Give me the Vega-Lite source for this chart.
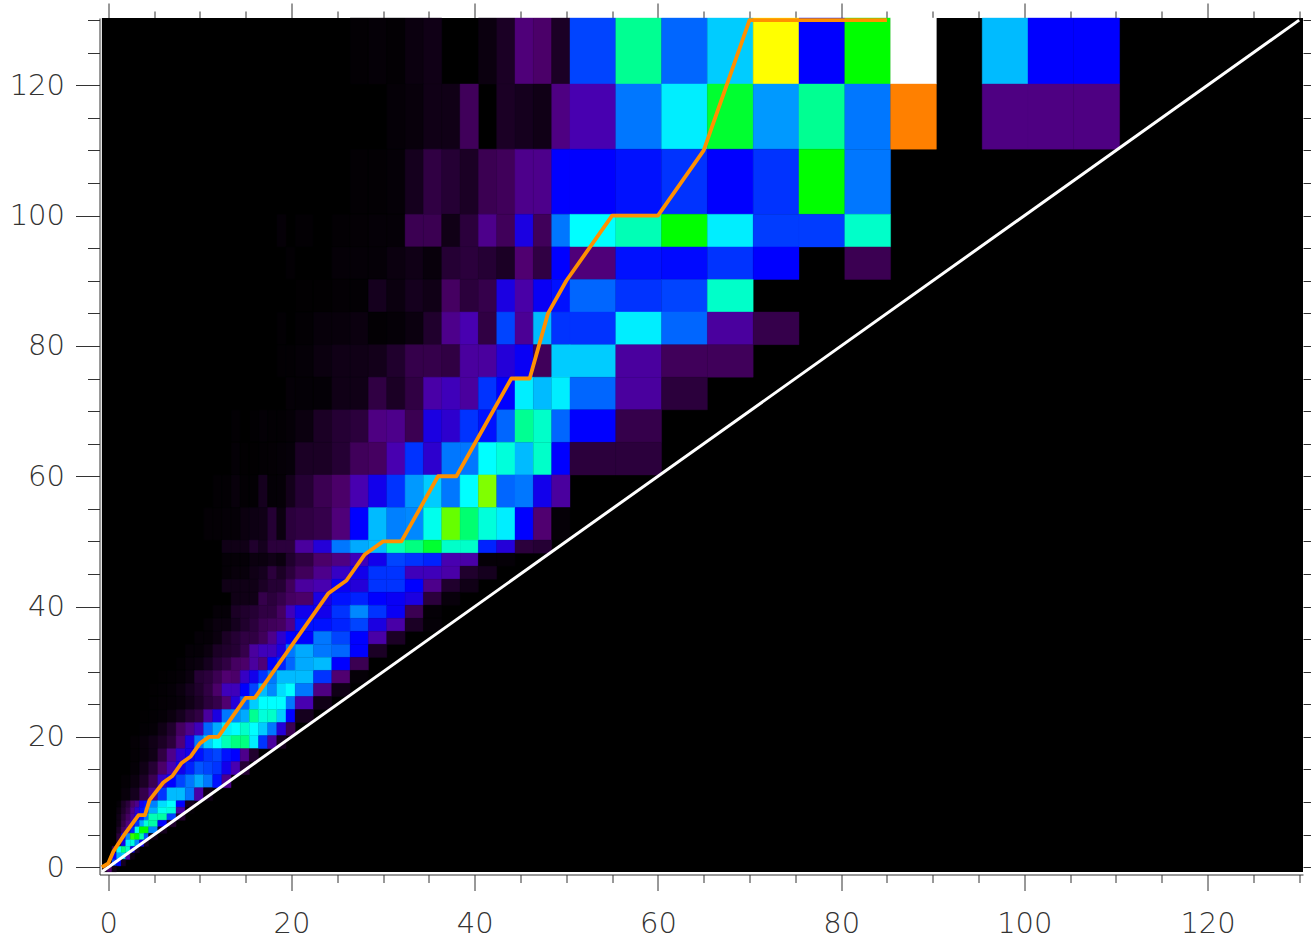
{"$schema":"https://vega.github.io/schema/vega-lite/v6.json","width":1203.5,"height":856.5,"autosize":"none","padding":{"left":99.5,"top":18,"right":8,"bottom":64.5},"background":"white","config":{"view":{"stroke":null}},"resolve":{"axis":{"x":"independent","y":"independent"}},"layer":[{"mark":{"type":"rect","color":"#000000","strokeWidth":0},"data":{"values":[{"x0":-0.7,"x1":130.42,"y0":-0.72,"y1":130.33}]},"encoding":{"x":{"field":"x0","type":"quantitative","scale":{"domain":[-0.96,130.42],"nice":false,"zero":false},"axis":{"orient":"bottom","title":null,"values":[0,5,10,15,20,25,30,35,40,45,50,55,60,65,70,75,80,85,90,95,100,105,110,115,120,125,130],"labelExpr":"datum.value % 20 === 0 ? datum.label : ''","tickSize":{"condition":{"test":"datum.value % 20 === 0","value":16},"value":8},"tickColor":"#333333","tickWidth":1,"grid":false,"domain":true,"domainColor":"#333333","labelFont":"DejaVu Sans","labelFontWeight":200,"labelFontSize":29,"labelColor":"#333333","labelPadding":19,"labelFlush":false,"labelOverlap":false}},"x2":{"field":"x1"},"y":{"field":"y0","type":"quantitative","scale":{"domain":[-1.12,130.33],"nice":false,"zero":false},"axis":{"orient":"left","title":null,"values":[0,5,10,15,20,25,30,35,40,45,50,55,60,65,70,75,80,85,90,95,100,105,110,115,120,125,130],"labelExpr":"datum.value % 20 === 0 ? datum.label : ''","tickSize":{"condition":{"test":"datum.value % 20 === 0","value":24},"value":12},"tickColor":"#333333","tickWidth":1,"grid":false,"domain":true,"domainColor":"#333333","labelFont":"DejaVu Sans","labelFontWeight":200,"labelFontSize":29,"labelColor":"#333333","labelPadding":11,"labelFlush":false,"labelOverlap":false}},"y2":{"field":"y1"}}},
{"mark":{"type":"rect","strokeWidth":0.4},"data":{"values":[
{"x0":26.4,"x1":28.4,"y0":120.2,"y1":130.33,"v":0.5},{"x0":28.4,"x1":30.4,"y0":120.2,"y1":130.33,"v":1},{"x0":30.4,"x1":32.4,"y0":120.2,"y1":130.33,"v":0.5},{"x0":32.4,"x1":34.4,"y0":120.2,"y1":130.33,"v":2},{"x0":34.4,"x1":36.4,"y0":120.2,"y1":130.33,"v":3},{"x0":40.4,"x1":42.4,"y0":120.2,"y1":130.33,"v":2},{"x0":42.4,"x1":44.4,"y0":120.2,"y1":130.33,"v":5},{"x0":44.4,"x1":46.4,"y0":120.2,"y1":130.33,"v":16},{"x0":46.4,"x1":48.4,"y0":120.2,"y1":130.33,"v":14},{"x0":48.4,"x1":50.4,"y0":120.2,"y1":130.33,"v":5},{"x0":50.4,"x1":55.4,"y0":120.2,"y1":130.33,"v":34},{"x0":55.4,"x1":60.4,"y0":120.2,"y1":130.33,"v":51},{"x0":60.4,"x1":65.4,"y0":120.2,"y1":130.33,"v":36},{"x0":65.4,"x1":70.4,"y0":120.2,"y1":130.33,"v":42},{"x0":70.4,"x1":75.4,"y0":120.2,"y1":130.33,"v":70},{"x0":75.4,"x1":80.4,"y0":120.2,"y1":130.33,"v":30},{"x0":80.4,"x1":85.4,"y0":120.2,"y1":130.33,"v":60},{"x0":85.4,"x1":90.4,"y0":120.2,"y1":130.33,"v":100},{"x0":95.4,"x1":100.4,"y0":120.2,"y1":130.33,"v":41},{"x0":100.4,"x1":105.4,"y0":120.2,"y1":130.33,"v":30},{"x0":105.4,"x1":110.4,"y0":120.2,"y1":130.33,"v":30},
{"x0":30.4,"x1":32.4,"y0":110.2,"y1":120.2,"v":1},{"x0":32.4,"x1":34.4,"y0":110.2,"y1":120.2,"v":1.5},{"x0":34.4,"x1":36.4,"y0":110.2,"y1":120.2,"v":3},{"x0":36.4,"x1":38.4,"y0":110.2,"y1":120.2,"v":3},{"x0":38.4,"x1":40.4,"y0":110.2,"y1":120.2,"v":12},{"x0":42.4,"x1":44.4,"y0":110.2,"y1":120.2,"v":5},{"x0":44.4,"x1":46.4,"y0":110.2,"y1":120.2,"v":4},{"x0":46.4,"x1":48.4,"y0":110.2,"y1":120.2,"v":3},{"x0":48.4,"x1":50.4,"y0":110.2,"y1":120.2,"v":17},{"x0":50.4,"x1":55.4,"y0":110.2,"y1":120.2,"v":22},{"x0":55.4,"x1":60.4,"y0":110.2,"y1":120.2,"v":37},{"x0":60.4,"x1":65.4,"y0":110.2,"y1":120.2,"v":44},{"x0":65.4,"x1":70.4,"y0":110.2,"y1":120.2,"v":57},{"x0":70.4,"x1":75.4,"y0":110.2,"y1":120.2,"v":39},{"x0":75.4,"x1":80.4,"y0":110.2,"y1":120.2,"v":51},{"x0":80.4,"x1":85.4,"y0":110.2,"y1":120.2,"v":37},{"x0":85.4,"x1":90.4,"y0":110.2,"y1":120.2,"v":80},{"x0":95.4,"x1":100.4,"y0":110.2,"y1":120.2,"v":17},{"x0":100.4,"x1":105.4,"y0":110.2,"y1":120.2,"v":17},{"x0":105.4,"x1":110.4,"y0":110.2,"y1":120.2,"v":17},
{"x0":26.4,"x1":28.4,"y0":100.2,"y1":110.2,"v":0.5},{"x0":28.4,"x1":30.4,"y0":100.2,"y1":110.2,"v":0.5},{"x0":30.4,"x1":32.4,"y0":100.2,"y1":110.2,"v":1},{"x0":32.4,"x1":34.4,"y0":100.2,"y1":110.2,"v":4},{"x0":34.4,"x1":36.4,"y0":100.2,"y1":110.2,"v":9},{"x0":36.4,"x1":38.4,"y0":100.2,"y1":110.2,"v":7},{"x0":38.4,"x1":40.4,"y0":100.2,"y1":110.2,"v":5},{"x0":40.4,"x1":42.4,"y0":100.2,"y1":110.2,"v":11},{"x0":42.4,"x1":44.4,"y0":100.2,"y1":110.2,"v":12},{"x0":44.4,"x1":46.4,"y0":100.2,"y1":110.2,"v":18},{"x0":46.4,"x1":48.4,"y0":100.2,"y1":110.2,"v":18},{"x0":48.4,"x1":50.4,"y0":100.2,"y1":110.2,"v":30},{"x0":50.4,"x1":55.4,"y0":100.2,"y1":110.2,"v":30},{"x0":55.4,"x1":60.4,"y0":100.2,"y1":110.2,"v":31},{"x0":60.4,"x1":65.4,"y0":100.2,"y1":110.2,"v":33},{"x0":65.4,"x1":70.4,"y0":100.2,"y1":110.2,"v":30},{"x0":70.4,"x1":75.4,"y0":100.2,"y1":110.2,"v":33},{"x0":75.4,"x1":80.4,"y0":100.2,"y1":110.2,"v":60},{"x0":80.4,"x1":85.4,"y0":100.2,"y1":110.2,"v":37},
{"x0":18.4,"x1":19.4,"y0":95.2,"y1":100.2,"v":1},{"x0":20.4,"x1":22.4,"y0":95.2,"y1":100.2,"v":0.6},{"x0":24.4,"x1":26.4,"y0":95.2,"y1":100.2,"v":0.5},{"x0":26.4,"x1":28.4,"y0":95.2,"y1":100.2,"v":0.7},{"x0":28.4,"x1":30.4,"y0":95.2,"y1":100.2,"v":1},{"x0":30.4,"x1":32.4,"y0":95.2,"y1":100.2,"v":1},{"x0":32.4,"x1":34.4,"y0":95.2,"y1":100.2,"v":11},{"x0":34.4,"x1":36.4,"y0":95.2,"y1":100.2,"v":11},{"x0":36.4,"x1":38.4,"y0":95.2,"y1":100.2,"v":3},{"x0":38.4,"x1":40.4,"y0":95.2,"y1":100.2,"v":8},{"x0":40.4,"x1":42.4,"y0":95.2,"y1":100.2,"v":18},{"x0":42.4,"x1":44.4,"y0":95.2,"y1":100.2,"v":12},{"x0":44.4,"x1":46.4,"y0":95.2,"y1":100.2,"v":27},{"x0":46.4,"x1":48.4,"y0":95.2,"y1":100.2,"v":12},{"x0":48.4,"x1":50.4,"y0":95.2,"y1":100.2,"v":37},{"x0":50.4,"x1":55.4,"y0":95.2,"y1":100.2,"v":45},{"x0":55.4,"x1":60.4,"y0":95.2,"y1":100.2,"v":49},{"x0":60.4,"x1":65.4,"y0":95.2,"y1":100.2,"v":60},{"x0":65.4,"x1":70.4,"y0":95.2,"y1":100.2,"v":44},{"x0":70.4,"x1":75.4,"y0":95.2,"y1":100.2,"v":33.5},{"x0":75.4,"x1":80.4,"y0":95.2,"y1":100.2,"v":33.5},{"x0":80.4,"x1":85.4,"y0":95.2,"y1":100.2,"v":48},
{"x0":19.4,"x1":20.4,"y0":90.2,"y1":95.2,"v":0.5},{"x0":24.4,"x1":26.4,"y0":90.2,"y1":95.2,"v":1},{"x0":26.4,"x1":28.4,"y0":90.2,"y1":95.2,"v":1},{"x0":28.4,"x1":30.4,"y0":90.2,"y1":95.2,"v":1},{"x0":30.4,"x1":32.4,"y0":90.2,"y1":95.2,"v":2},{"x0":32.4,"x1":34.4,"y0":90.2,"y1":95.2,"v":3},{"x0":34.4,"x1":36.4,"y0":90.2,"y1":95.2,"v":1.5},{"x0":36.4,"x1":38.4,"y0":90.2,"y1":95.2,"v":7},{"x0":38.4,"x1":40.4,"y0":90.2,"y1":95.2,"v":8},{"x0":40.4,"x1":42.4,"y0":90.2,"y1":95.2,"v":7},{"x0":42.4,"x1":44.4,"y0":90.2,"y1":95.2,"v":5},{"x0":44.4,"x1":46.4,"y0":90.2,"y1":95.2,"v":15},{"x0":46.4,"x1":48.4,"y0":90.2,"y1":95.2,"v":9},{"x0":48.4,"x1":50.4,"y0":90.2,"y1":95.2,"v":30},{"x0":50.4,"x1":55.4,"y0":90.2,"y1":95.2,"v":16},{"x0":55.4,"x1":60.4,"y0":90.2,"y1":95.2,"v":31},{"x0":60.4,"x1":65.4,"y0":90.2,"y1":95.2,"v":30.5},{"x0":65.4,"x1":70.4,"y0":90.2,"y1":95.2,"v":33},{"x0":70.4,"x1":75.4,"y0":90.2,"y1":95.2,"v":30},{"x0":80.4,"x1":85.4,"y0":90.2,"y1":95.2,"v":11},
{"x0":20.4,"x1":22.4,"y0":85.2,"y1":90.2,"v":0.3},{"x0":22.4,"x1":24.4,"y0":85.2,"y1":90.2,"v":0.3},{"x0":24.4,"x1":26.4,"y0":85.2,"y1":90.2,"v":0.7},{"x0":26.4,"x1":28.4,"y0":85.2,"y1":90.2,"v":0.6},{"x0":28.4,"x1":30.4,"y0":85.2,"y1":90.2,"v":4},{"x0":30.4,"x1":32.4,"y0":85.2,"y1":90.2,"v":2},{"x0":32.4,"x1":34.4,"y0":85.2,"y1":90.2,"v":4},{"x0":34.4,"x1":36.4,"y0":85.2,"y1":90.2,"v":3},{"x0":36.4,"x1":38.4,"y0":85.2,"y1":90.2,"v":13},{"x0":38.4,"x1":40.4,"y0":85.2,"y1":90.2,"v":8},{"x0":40.4,"x1":42.4,"y0":85.2,"y1":90.2,"v":10},{"x0":42.4,"x1":44.4,"y0":85.2,"y1":90.2,"v":27},{"x0":44.4,"x1":46.4,"y0":85.2,"y1":90.2,"v":21},{"x0":46.4,"x1":48.4,"y0":85.2,"y1":90.2,"v":29},{"x0":48.4,"x1":50.4,"y0":85.2,"y1":90.2,"v":31},{"x0":50.4,"x1":55.4,"y0":85.2,"y1":90.2,"v":36},{"x0":55.4,"x1":60.4,"y0":85.2,"y1":90.2,"v":33},{"x0":60.4,"x1":65.4,"y0":85.2,"y1":90.2,"v":34},{"x0":65.4,"x1":70.4,"y0":85.2,"y1":90.2,"v":48},
{"x0":18.4,"x1":19.4,"y0":80.2,"y1":85.2,"v":0.5},{"x0":20.4,"x1":22.4,"y0":80.2,"y1":85.2,"v":0.6},{"x0":22.4,"x1":24.4,"y0":80.2,"y1":85.2,"v":1.3},{"x0":24.4,"x1":26.4,"y0":80.2,"y1":85.2,"v":1.5},{"x0":26.4,"x1":28.4,"y0":80.2,"y1":85.2,"v":2},{"x0":28.4,"x1":30.4,"y0":80.2,"y1":85.2,"v":0.5},{"x0":30.4,"x1":32.4,"y0":80.2,"y1":85.2,"v":1},{"x0":32.4,"x1":34.4,"y0":80.2,"y1":85.2,"v":2},{"x0":34.4,"x1":36.4,"y0":80.2,"y1":85.2,"v":6},{"x0":36.4,"x1":38.4,"y0":80.2,"y1":85.2,"v":18},{"x0":38.4,"x1":40.4,"y0":80.2,"y1":85.2,"v":22},{"x0":40.4,"x1":42.4,"y0":80.2,"y1":85.2,"v":9},{"x0":42.4,"x1":44.4,"y0":80.2,"y1":85.2,"v":34},{"x0":44.4,"x1":46.4,"y0":80.2,"y1":85.2,"v":19},{"x0":46.4,"x1":48.4,"y0":80.2,"y1":85.2,"v":41},{"x0":48.4,"x1":50.4,"y0":80.2,"y1":85.2,"v":33},{"x0":50.4,"x1":55.4,"y0":80.2,"y1":85.2,"v":33},{"x0":55.4,"x1":60.4,"y0":80.2,"y1":85.2,"v":44},{"x0":60.4,"x1":65.4,"y0":80.2,"y1":85.2,"v":36},{"x0":65.4,"x1":70.4,"y0":80.2,"y1":85.2,"v":20},{"x0":70.4,"x1":75.4,"y0":80.2,"y1":85.2,"v":10},
{"x0":18.4,"x1":19.4,"y0":75.2,"y1":80.2,"v":0.5},{"x0":19.4,"x1":20.4,"y0":75.2,"y1":80.2,"v":0.5},{"x0":20.4,"x1":22.4,"y0":75.2,"y1":80.2,"v":1},{"x0":22.4,"x1":24.4,"y0":75.2,"y1":80.2,"v":2},{"x0":24.4,"x1":26.4,"y0":75.2,"y1":80.2,"v":3},{"x0":26.4,"x1":28.4,"y0":75.2,"y1":80.2,"v":3},{"x0":28.4,"x1":30.4,"y0":75.2,"y1":80.2,"v":3.5},{"x0":30.4,"x1":32.4,"y0":75.2,"y1":80.2,"v":6},{"x0":32.4,"x1":34.4,"y0":75.2,"y1":80.2,"v":10},{"x0":34.4,"x1":36.4,"y0":75.2,"y1":80.2,"v":10},{"x0":36.4,"x1":38.4,"y0":75.2,"y1":80.2,"v":9},{"x0":38.4,"x1":40.4,"y0":75.2,"y1":80.2,"v":20},{"x0":40.4,"x1":42.4,"y0":75.2,"y1":80.2,"v":20},{"x0":42.4,"x1":44.4,"y0":75.2,"y1":80.2,"v":26},{"x0":44.4,"x1":46.4,"y0":75.2,"y1":80.2,"v":29},{"x0":46.4,"x1":48.4,"y0":75.2,"y1":80.2,"v":12},{"x0":48.4,"x1":50.4,"y0":75.2,"y1":80.2,"v":42},{"x0":50.4,"x1":55.4,"y0":75.2,"y1":80.2,"v":42},{"x0":55.4,"x1":60.4,"y0":75.2,"y1":80.2,"v":20},{"x0":60.4,"x1":65.4,"y0":75.2,"y1":80.2,"v":12},{"x0":65.4,"x1":70.4,"y0":75.2,"y1":80.2,"v":12},
{"x0":19.4,"x1":20.4,"y0":70.2,"y1":75.2,"v":1},{"x0":20.4,"x1":22.4,"y0":70.2,"y1":75.2,"v":0.8},{"x0":22.4,"x1":24.4,"y0":70.2,"y1":75.2,"v":0.8},{"x0":24.4,"x1":26.4,"y0":70.2,"y1":75.2,"v":3},{"x0":26.4,"x1":28.4,"y0":70.2,"y1":75.2,"v":3},{"x0":28.4,"x1":30.4,"y0":70.2,"y1":75.2,"v":9},{"x0":30.4,"x1":32.4,"y0":70.2,"y1":75.2,"v":5},{"x0":32.4,"x1":34.4,"y0":70.2,"y1":75.2,"v":9},{"x0":34.4,"x1":36.4,"y0":70.2,"y1":75.2,"v":21},{"x0":36.4,"x1":38.4,"y0":70.2,"y1":75.2,"v":23},{"x0":38.4,"x1":40.4,"y0":70.2,"y1":75.2,"v":20},{"x0":40.4,"x1":42.4,"y0":70.2,"y1":75.2,"v":33},{"x0":42.4,"x1":44.4,"y0":70.2,"y1":75.2,"v":30},{"x0":44.4,"x1":46.4,"y0":70.2,"y1":75.2,"v":44},{"x0":46.4,"x1":48.4,"y0":70.2,"y1":75.2,"v":41},{"x0":48.4,"x1":50.4,"y0":70.2,"y1":75.2,"v":44},{"x0":50.4,"x1":55.4,"y0":70.2,"y1":75.2,"v":36},{"x0":55.4,"x1":60.4,"y0":70.2,"y1":75.2,"v":20},{"x0":60.4,"x1":65.4,"y0":70.2,"y1":75.2,"v":8},
{"x0":13.4,"x1":14.4,"y0":65.2,"y1":70.2,"v":0.5},{"x0":15.4,"x1":16.4,"y0":65.2,"y1":70.2,"v":0.4},{"x0":16.4,"x1":17.4,"y0":65.2,"y1":70.2,"v":0.8},{"x0":17.4,"x1":18.4,"y0":65.2,"y1":70.2,"v":0.5},{"x0":18.4,"x1":19.4,"y0":65.2,"y1":70.2,"v":0.5},{"x0":19.4,"x1":20.4,"y0":65.2,"y1":70.2,"v":1},{"x0":20.4,"x1":22.4,"y0":65.2,"y1":70.2,"v":2},{"x0":22.4,"x1":24.4,"y0":65.2,"y1":70.2,"v":5},{"x0":24.4,"x1":26.4,"y0":65.2,"y1":70.2,"v":7},{"x0":26.4,"x1":28.4,"y0":65.2,"y1":70.2,"v":8},{"x0":28.4,"x1":30.4,"y0":65.2,"y1":70.2,"v":17},{"x0":30.4,"x1":32.4,"y0":65.2,"y1":70.2,"v":18},{"x0":32.4,"x1":34.4,"y0":65.2,"y1":70.2,"v":11},{"x0":34.4,"x1":36.4,"y0":65.2,"y1":70.2,"v":27},{"x0":36.4,"x1":38.4,"y0":65.2,"y1":70.2,"v":25},{"x0":38.4,"x1":40.4,"y0":65.2,"y1":70.2,"v":33},{"x0":40.4,"x1":42.4,"y0":65.2,"y1":70.2,"v":31},{"x0":42.4,"x1":44.4,"y0":65.2,"y1":70.2,"v":36},{"x0":44.4,"x1":46.4,"y0":65.2,"y1":70.2,"v":51},{"x0":46.4,"x1":48.4,"y0":65.2,"y1":70.2,"v":48},{"x0":48.4,"x1":50.4,"y0":65.2,"y1":70.2,"v":36},{"x0":50.4,"x1":55.4,"y0":65.2,"y1":70.2,"v":30},{"x0":55.4,"x1":60.4,"y0":65.2,"y1":70.2,"v":10},
{"x0":13.4,"x1":14.4,"y0":60.2,"y1":65.2,"v":0.8},{"x0":14.4,"x1":15.4,"y0":60.2,"y1":65.2,"v":0.3},{"x0":15.4,"x1":16.4,"y0":60.2,"y1":65.2,"v":0.3},{"x0":16.4,"x1":17.4,"y0":60.2,"y1":65.2,"v":0.5},{"x0":17.4,"x1":18.4,"y0":60.2,"y1":65.2,"v":0.7},{"x0":18.4,"x1":19.4,"y0":60.2,"y1":65.2,"v":1},{"x0":19.4,"x1":20.4,"y0":60.2,"y1":65.2,"v":1.2},{"x0":20.4,"x1":22.4,"y0":60.2,"y1":65.2,"v":5},{"x0":22.4,"x1":24.4,"y0":60.2,"y1":65.2,"v":5},{"x0":24.4,"x1":26.4,"y0":60.2,"y1":65.2,"v":7},{"x0":26.4,"x1":28.4,"y0":60.2,"y1":65.2,"v":12},{"x0":28.4,"x1":30.4,"y0":60.2,"y1":65.2,"v":13},{"x0":30.4,"x1":32.4,"y0":60.2,"y1":65.2,"v":22},{"x0":32.4,"x1":34.4,"y0":60.2,"y1":65.2,"v":33},{"x0":34.4,"x1":36.4,"y0":60.2,"y1":65.2,"v":25},{"x0":36.4,"x1":38.4,"y0":60.2,"y1":65.2,"v":37},{"x0":38.4,"x1":40.4,"y0":60.2,"y1":65.2,"v":37},{"x0":40.4,"x1":42.4,"y0":60.2,"y1":65.2,"v":45},{"x0":42.4,"x1":44.4,"y0":60.2,"y1":65.2,"v":47},{"x0":44.4,"x1":46.4,"y0":60.2,"y1":65.2,"v":41},{"x0":46.4,"x1":48.4,"y0":60.2,"y1":65.2,"v":48},{"x0":48.4,"x1":50.4,"y0":60.2,"y1":65.2,"v":30},{"x0":50.4,"x1":55.4,"y0":60.2,"y1":65.2,"v":8},{"x0":55.4,"x1":60.4,"y0":60.2,"y1":65.2,"v":8},
{"x0":11.4,"x1":12.4,"y0":55.2,"y1":60.2,"v":0.5},{"x0":12.4,"x1":13.4,"y0":55.2,"y1":60.2,"v":0.5},{"x0":13.4,"x1":14.4,"y0":55.2,"y1":60.2,"v":1.5},{"x0":14.4,"x1":15.4,"y0":55.2,"y1":60.2,"v":0.5},{"x0":15.4,"x1":16.4,"y0":55.2,"y1":60.2,"v":0.5},{"x0":16.4,"x1":17.4,"y0":55.2,"y1":60.2,"v":4},{"x0":17.4,"x1":18.4,"y0":55.2,"y1":60.2,"v":0.8},{"x0":18.4,"x1":19.4,"y0":55.2,"y1":60.2,"v":1},{"x0":19.4,"x1":20.4,"y0":55.2,"y1":60.2,"v":3.5},{"x0":20.4,"x1":22.4,"y0":55.2,"y1":60.2,"v":7},{"x0":22.4,"x1":24.4,"y0":55.2,"y1":60.2,"v":11},{"x0":24.4,"x1":26.4,"y0":55.2,"y1":60.2,"v":14},{"x0":26.4,"x1":28.4,"y0":55.2,"y1":60.2,"v":22},{"x0":28.4,"x1":30.4,"y0":55.2,"y1":60.2,"v":28},{"x0":30.4,"x1":32.4,"y0":55.2,"y1":60.2,"v":33},{"x0":32.4,"x1":34.4,"y0":55.2,"y1":60.2,"v":39},{"x0":34.4,"x1":36.4,"y0":55.2,"y1":60.2,"v":42},{"x0":36.4,"x1":38.4,"y0":55.2,"y1":60.2,"v":37},{"x0":38.4,"x1":40.4,"y0":55.2,"y1":60.2,"v":45},{"x0":40.4,"x1":42.4,"y0":55.2,"y1":60.2,"v":65},{"x0":42.4,"x1":44.4,"y0":55.2,"y1":60.2,"v":36},{"x0":44.4,"x1":46.4,"y0":55.2,"y1":60.2,"v":37},{"x0":46.4,"x1":48.4,"y0":55.2,"y1":60.2,"v":28},{"x0":48.4,"x1":50.4,"y0":55.2,"y1":60.2,"v":20},
{"x0":10.4,"x1":11.4,"y0":50.2,"y1":55.2,"v":0.7},{"x0":11.4,"x1":12.4,"y0":50.2,"y1":55.2,"v":0.7},{"x0":12.4,"x1":13.4,"y0":50.2,"y1":55.2,"v":1},{"x0":13.4,"x1":14.4,"y0":50.2,"y1":55.2,"v":1},{"x0":14.4,"x1":15.4,"y0":50.2,"y1":55.2,"v":2},{"x0":15.4,"x1":16.4,"y0":50.2,"y1":55.2,"v":2.5},{"x0":16.4,"x1":17.4,"y0":50.2,"y1":55.2,"v":3},{"x0":17.4,"x1":18.4,"y0":50.2,"y1":55.2,"v":7},{"x0":18.4,"x1":19.4,"y0":50.2,"y1":55.2,"v":2},{"x0":19.4,"x1":20.4,"y0":50.2,"y1":55.2,"v":8},{"x0":20.4,"x1":22.4,"y0":50.2,"y1":55.2,"v":9},{"x0":22.4,"x1":24.4,"y0":50.2,"y1":55.2,"v":10},{"x0":24.4,"x1":26.4,"y0":50.2,"y1":55.2,"v":16},{"x0":26.4,"x1":28.4,"y0":50.2,"y1":55.2,"v":30},{"x0":28.4,"x1":30.4,"y0":50.2,"y1":55.2,"v":41},{"x0":30.4,"x1":32.4,"y0":50.2,"y1":55.2,"v":37.5},{"x0":32.4,"x1":34.4,"y0":50.2,"y1":55.2,"v":38},{"x0":34.4,"x1":36.4,"y0":50.2,"y1":55.2,"v":46},{"x0":36.4,"x1":38.4,"y0":50.2,"y1":55.2,"v":64},{"x0":38.4,"x1":40.4,"y0":50.2,"y1":55.2,"v":53},{"x0":40.4,"x1":42.4,"y0":50.2,"y1":55.2,"v":47},{"x0":42.4,"x1":44.4,"y0":50.2,"y1":55.2,"v":44},{"x0":44.4,"x1":46.4,"y0":50.2,"y1":55.2,"v":30},{"x0":46.4,"x1":48.4,"y0":50.2,"y1":55.2,"v":15},{"x0":48.4,"x1":50.4,"y0":50.2,"y1":55.2,"v":1},
{"x0":12.4,"x1":13.4,"y0":48.2,"y1":50.2,"v":3},{"x0":13.4,"x1":14.4,"y0":48.2,"y1":50.2,"v":3},{"x0":14.4,"x1":15.4,"y0":48.2,"y1":50.2,"v":3},{"x0":15.4,"x1":16.4,"y0":48.2,"y1":50.2,"v":6},{"x0":16.4,"x1":17.4,"y0":48.2,"y1":50.2,"v":4},{"x0":17.4,"x1":18.4,"y0":48.2,"y1":50.2,"v":8},{"x0":18.4,"x1":19.4,"y0":48.2,"y1":50.2,"v":8},{"x0":19.4,"x1":20.4,"y0":48.2,"y1":50.2,"v":8},{"x0":20.4,"x1":22.4,"y0":48.2,"y1":50.2,"v":20},{"x0":22.4,"x1":24.4,"y0":48.2,"y1":50.2,"v":26},{"x0":24.4,"x1":26.4,"y0":48.2,"y1":50.2,"v":37},{"x0":26.4,"x1":28.4,"y0":48.2,"y1":50.2,"v":40},{"x0":28.4,"x1":30.4,"y0":48.2,"y1":50.2,"v":41},{"x0":30.4,"x1":32.4,"y0":48.2,"y1":50.2,"v":49},{"x0":32.4,"x1":34.4,"y0":48.2,"y1":50.2,"v":52},{"x0":34.4,"x1":36.4,"y0":48.2,"y1":50.2,"v":57},{"x0":36.4,"x1":38.4,"y0":48.2,"y1":50.2,"v":48},{"x0":38.4,"x1":40.4,"y0":48.2,"y1":50.2,"v":48},{"x0":40.4,"x1":42.4,"y0":48.2,"y1":50.2,"v":32},{"x0":42.4,"x1":44.4,"y0":48.2,"y1":50.2,"v":26},{"x0":44.4,"x1":46.4,"y0":48.2,"y1":50.2,"v":8},{"x0":46.4,"x1":48.4,"y0":48.2,"y1":50.2,"v":7},
{"x0":12.4,"x1":13.4,"y0":46.2,"y1":48.2,"v":1},{"x0":13.4,"x1":14.4,"y0":46.2,"y1":48.2,"v":1},{"x0":14.4,"x1":15.4,"y0":46.2,"y1":48.2,"v":1},{"x0":15.4,"x1":16.4,"y0":46.2,"y1":48.2,"v":2},{"x0":16.4,"x1":17.4,"y0":46.2,"y1":48.2,"v":2},{"x0":17.4,"x1":18.4,"y0":46.2,"y1":48.2,"v":3},{"x0":18.4,"x1":19.4,"y0":46.2,"y1":48.2,"v":2},{"x0":19.4,"x1":20.4,"y0":46.2,"y1":48.2,"v":6},{"x0":20.4,"x1":22.4,"y0":46.2,"y1":48.2,"v":9},{"x0":22.4,"x1":24.4,"y0":46.2,"y1":48.2,"v":14},{"x0":24.4,"x1":26.4,"y0":46.2,"y1":48.2,"v":17},{"x0":26.4,"x1":28.4,"y0":46.2,"y1":48.2,"v":23},{"x0":28.4,"x1":30.4,"y0":46.2,"y1":48.2,"v":28},{"x0":30.4,"x1":32.4,"y0":46.2,"y1":48.2,"v":34},{"x0":32.4,"x1":34.4,"y0":46.2,"y1":48.2,"v":33},{"x0":34.4,"x1":36.4,"y0":46.2,"y1":48.2,"v":32},{"x0":36.4,"x1":38.4,"y0":46.2,"y1":48.2,"v":22},{"x0":38.4,"x1":40.4,"y0":46.2,"y1":48.2,"v":21},{"x0":40.4,"x1":42.4,"y0":46.2,"y1":48.2,"v":1},{"x0":42.4,"x1":44.4,"y0":46.2,"y1":48.2,"v":1},
{"x0":12.4,"x1":13.4,"y0":44.2,"y1":46.2,"v":1},{"x0":13.4,"x1":14.4,"y0":44.2,"y1":46.2,"v":1.5},{"x0":14.4,"x1":15.4,"y0":44.2,"y1":46.2,"v":1.5},{"x0":15.4,"x1":16.4,"y0":44.2,"y1":46.2,"v":3},{"x0":16.4,"x1":17.4,"y0":44.2,"y1":46.2,"v":4},{"x0":17.4,"x1":18.4,"y0":44.2,"y1":46.2,"v":8},{"x0":18.4,"x1":19.4,"y0":44.2,"y1":46.2,"v":5},{"x0":19.4,"x1":20.4,"y0":44.2,"y1":46.2,"v":8},{"x0":20.4,"x1":22.4,"y0":44.2,"y1":46.2,"v":12},{"x0":22.4,"x1":24.4,"y0":44.2,"y1":46.2,"v":18},{"x0":24.4,"x1":26.4,"y0":44.2,"y1":46.2,"v":24},{"x0":26.4,"x1":28.4,"y0":44.2,"y1":46.2,"v":28},{"x0":28.4,"x1":30.4,"y0":44.2,"y1":46.2,"v":33},{"x0":30.4,"x1":32.4,"y0":44.2,"y1":46.2,"v":33},{"x0":32.4,"x1":34.4,"y0":44.2,"y1":46.2,"v":23},{"x0":34.4,"x1":36.4,"y0":44.2,"y1":46.2,"v":23},{"x0":36.4,"x1":38.4,"y0":44.2,"y1":46.2,"v":21},{"x0":38.4,"x1":40.4,"y0":44.2,"y1":46.2,"v":6},{"x0":40.4,"x1":42.4,"y0":44.2,"y1":46.2,"v":4},
{"x0":12.4,"x1":13.4,"y0":42.2,"y1":44.2,"v":3},{"x0":13.4,"x1":14.4,"y0":42.2,"y1":44.2,"v":3},{"x0":14.4,"x1":15.4,"y0":42.2,"y1":44.2,"v":3},{"x0":15.4,"x1":16.4,"y0":42.2,"y1":44.2,"v":3},{"x0":16.4,"x1":17.4,"y0":42.2,"y1":44.2,"v":5},{"x0":17.4,"x1":18.4,"y0":42.2,"y1":44.2,"v":7},{"x0":18.4,"x1":19.4,"y0":42.2,"y1":44.2,"v":7},{"x0":19.4,"x1":20.4,"y0":42.2,"y1":44.2,"v":12},{"x0":20.4,"x1":22.4,"y0":42.2,"y1":44.2,"v":20},{"x0":22.4,"x1":24.4,"y0":42.2,"y1":44.2,"v":22},{"x0":24.4,"x1":26.4,"y0":42.2,"y1":44.2,"v":29},{"x0":26.4,"x1":28.4,"y0":42.2,"y1":44.2,"v":26},{"x0":28.4,"x1":30.4,"y0":42.2,"y1":44.2,"v":33},{"x0":30.4,"x1":32.4,"y0":42.2,"y1":44.2,"v":33},{"x0":32.4,"x1":34.4,"y0":42.2,"y1":44.2,"v":30},{"x0":34.4,"x1":36.4,"y0":42.2,"y1":44.2,"v":18},{"x0":36.4,"x1":38.4,"y0":42.2,"y1":44.2,"v":6},{"x0":38.4,"x1":40.4,"y0":42.2,"y1":44.2,"v":3},
{"x0":13.4,"x1":14.4,"y0":40.2,"y1":42.2,"v":3},{"x0":14.4,"x1":15.4,"y0":40.2,"y1":42.2,"v":3},{"x0":15.4,"x1":16.4,"y0":40.2,"y1":42.2,"v":3},{"x0":16.4,"x1":17.4,"y0":40.2,"y1":42.2,"v":10},{"x0":17.4,"x1":18.4,"y0":40.2,"y1":42.2,"v":8},{"x0":18.4,"x1":19.4,"y0":40.2,"y1":42.2,"v":10},{"x0":19.4,"x1":20.4,"y0":40.2,"y1":42.2,"v":13},{"x0":20.4,"x1":22.4,"y0":40.2,"y1":42.2,"v":14},{"x0":22.4,"x1":24.4,"y0":40.2,"y1":42.2,"v":27},{"x0":24.4,"x1":26.4,"y0":40.2,"y1":42.2,"v":31},{"x0":26.4,"x1":28.4,"y0":40.2,"y1":42.2,"v":32},{"x0":28.4,"x1":30.4,"y0":40.2,"y1":42.2,"v":30},{"x0":30.4,"x1":32.4,"y0":40.2,"y1":42.2,"v":29},{"x0":32.4,"x1":34.4,"y0":40.2,"y1":42.2,"v":27},{"x0":34.4,"x1":36.4,"y0":40.2,"y1":42.2,"v":8},{"x0":36.4,"x1":38.4,"y0":40.2,"y1":42.2,"v":1.5},
{"x0":11.4,"x1":12.4,"y0":38.2,"y1":40.2,"v":1},{"x0":12.4,"x1":13.4,"y0":38.2,"y1":40.2,"v":1},{"x0":13.4,"x1":14.4,"y0":38.2,"y1":40.2,"v":5},{"x0":14.4,"x1":15.4,"y0":38.2,"y1":40.2,"v":6},{"x0":15.4,"x1":16.4,"y0":38.2,"y1":40.2,"v":7},{"x0":16.4,"x1":17.4,"y0":38.2,"y1":40.2,"v":9},{"x0":17.4,"x1":18.4,"y0":38.2,"y1":40.2,"v":9},{"x0":18.4,"x1":19.4,"y0":38.2,"y1":40.2,"v":13},{"x0":19.4,"x1":20.4,"y0":38.2,"y1":40.2,"v":23},{"x0":20.4,"x1":22.4,"y0":38.2,"y1":40.2,"v":28},{"x0":22.4,"x1":24.4,"y0":38.2,"y1":40.2,"v":28},{"x0":24.4,"x1":26.4,"y0":38.2,"y1":40.2,"v":33},{"x0":26.4,"x1":28.4,"y0":38.2,"y1":40.2,"v":38},{"x0":28.4,"x1":30.4,"y0":38.2,"y1":40.2,"v":33},{"x0":30.4,"x1":32.4,"y0":38.2,"y1":40.2,"v":29},{"x0":32.4,"x1":34.4,"y0":38.2,"y1":40.2,"v":11},{"x0":34.4,"x1":36.4,"y0":38.2,"y1":40.2,"v":1},
{"x0":10.4,"x1":11.4,"y0":36.2,"y1":38.2,"v":1},{"x0":11.4,"x1":12.4,"y0":36.2,"y1":38.2,"v":2},{"x0":12.4,"x1":13.4,"y0":36.2,"y1":38.2,"v":2},{"x0":13.4,"x1":14.4,"y0":36.2,"y1":38.2,"v":4},{"x0":14.4,"x1":15.4,"y0":36.2,"y1":38.2,"v":6},{"x0":15.4,"x1":16.4,"y0":36.2,"y1":38.2,"v":8},{"x0":16.4,"x1":17.4,"y0":36.2,"y1":38.2,"v":11},{"x0":17.4,"x1":18.4,"y0":36.2,"y1":38.2,"v":12},{"x0":18.4,"x1":19.4,"y0":36.2,"y1":38.2,"v":13},{"x0":19.4,"x1":20.4,"y0":36.2,"y1":38.2,"v":18},{"x0":20.4,"x1":22.4,"y0":36.2,"y1":38.2,"v":31},{"x0":22.4,"x1":24.4,"y0":36.2,"y1":38.2,"v":31},{"x0":24.4,"x1":26.4,"y0":36.2,"y1":38.2,"v":32},{"x0":26.4,"x1":28.4,"y0":36.2,"y1":38.2,"v":34},{"x0":28.4,"x1":30.4,"y0":36.2,"y1":38.2,"v":27},{"x0":30.4,"x1":32.4,"y0":36.2,"y1":38.2,"v":21},{"x0":32.4,"x1":34.4,"y0":36.2,"y1":38.2,"v":5},{"x0":34.4,"x1":36.4,"y0":36.2,"y1":38.2,"v":1},
{"x0":9.4,"x1":10.4,"y0":34.2,"y1":36.2,"v":1},{"x0":10.4,"x1":11.4,"y0":34.2,"y1":36.2,"v":1},{"x0":11.4,"x1":12.4,"y0":34.2,"y1":36.2,"v":2},{"x0":12.4,"x1":13.4,"y0":34.2,"y1":36.2,"v":5},{"x0":13.4,"x1":14.4,"y0":34.2,"y1":36.2,"v":7},{"x0":14.4,"x1":15.4,"y0":34.2,"y1":36.2,"v":9},{"x0":15.4,"x1":16.4,"y0":34.2,"y1":36.2,"v":9},{"x0":16.4,"x1":17.4,"y0":34.2,"y1":36.2,"v":12},{"x0":17.4,"x1":18.4,"y0":34.2,"y1":36.2,"v":18},{"x0":18.4,"x1":19.4,"y0":34.2,"y1":36.2,"v":25},{"x0":19.4,"x1":20.4,"y0":34.2,"y1":36.2,"v":30},{"x0":20.4,"x1":22.4,"y0":34.2,"y1":36.2,"v":30},{"x0":22.4,"x1":24.4,"y0":34.2,"y1":36.2,"v":37},{"x0":24.4,"x1":26.4,"y0":34.2,"y1":36.2,"v":34},{"x0":26.4,"x1":28.4,"y0":34.2,"y1":36.2,"v":30},{"x0":28.4,"x1":30.4,"y0":34.2,"y1":36.2,"v":21},{"x0":30.4,"x1":32.4,"y0":34.2,"y1":36.2,"v":5},
{"x0":8.4,"x1":9.4,"y0":32.2,"y1":34.2,"v":1},{"x0":9.4,"x1":10.4,"y0":32.2,"y1":34.2,"v":1},{"x0":10.4,"x1":11.4,"y0":32.2,"y1":34.2,"v":2},{"x0":11.4,"x1":12.4,"y0":32.2,"y1":34.2,"v":5},{"x0":12.4,"x1":13.4,"y0":32.2,"y1":34.2,"v":6},{"x0":13.4,"x1":14.4,"y0":32.2,"y1":34.2,"v":7},{"x0":14.4,"x1":15.4,"y0":32.2,"y1":34.2,"v":10},{"x0":15.4,"x1":16.4,"y0":32.2,"y1":34.2,"v":20},{"x0":16.4,"x1":17.4,"y0":32.2,"y1":34.2,"v":23},{"x0":17.4,"x1":18.4,"y0":32.2,"y1":34.2,"v":23},{"x0":18.4,"x1":19.4,"y0":32.2,"y1":34.2,"v":27},{"x0":19.4,"x1":20.4,"y0":32.2,"y1":34.2,"v":37},{"x0":20.4,"x1":22.4,"y0":32.2,"y1":34.2,"v":40},{"x0":22.4,"x1":24.4,"y0":32.2,"y1":34.2,"v":37},{"x0":24.4,"x1":26.4,"y0":32.2,"y1":34.2,"v":36},{"x0":26.4,"x1":28.4,"y0":32.2,"y1":34.2,"v":30},{"x0":28.4,"x1":30.4,"y0":32.2,"y1":34.2,"v":5},
{"x0":7.4,"x1":8.4,"y0":30.2,"y1":32.2,"v":0.6},{"x0":8.4,"x1":9.4,"y0":30.2,"y1":32.2,"v":1.5},{"x0":9.4,"x1":10.4,"y0":30.2,"y1":32.2,"v":2},{"x0":10.4,"x1":11.4,"y0":30.2,"y1":32.2,"v":4},{"x0":11.4,"x1":12.4,"y0":30.2,"y1":32.2,"v":7},{"x0":12.4,"x1":13.4,"y0":30.2,"y1":32.2,"v":9},{"x0":13.4,"x1":14.4,"y0":30.2,"y1":32.2,"v":13},{"x0":14.4,"x1":15.4,"y0":30.2,"y1":32.2,"v":14},{"x0":15.4,"x1":16.4,"y0":30.2,"y1":32.2,"v":20},{"x0":16.4,"x1":17.4,"y0":30.2,"y1":32.2,"v":16},{"x0":17.4,"x1":18.4,"y0":30.2,"y1":32.2,"v":30},{"x0":18.4,"x1":19.4,"y0":30.2,"y1":32.2,"v":32},{"x0":19.4,"x1":20.4,"y0":30.2,"y1":32.2,"v":36},{"x0":20.4,"x1":22.4,"y0":30.2,"y1":32.2,"v":40},{"x0":22.4,"x1":24.4,"y0":30.2,"y1":32.2,"v":41},{"x0":24.4,"x1":26.4,"y0":30.2,"y1":32.2,"v":30},{"x0":26.4,"x1":28.4,"y0":30.2,"y1":32.2,"v":11},
{"x0":5.4,"x1":6.4,"y0":28.2,"y1":30.2,"v":0.3},{"x0":6.4,"x1":7.4,"y0":28.2,"y1":30.2,"v":0.6},{"x0":7.4,"x1":8.4,"y0":28.2,"y1":30.2,"v":1},{"x0":8.4,"x1":9.4,"y0":28.2,"y1":30.2,"v":2},{"x0":9.4,"x1":10.4,"y0":28.2,"y1":30.2,"v":7},{"x0":10.4,"x1":11.4,"y0":28.2,"y1":30.2,"v":8},{"x0":11.4,"x1":12.4,"y0":28.2,"y1":30.2,"v":11},{"x0":12.4,"x1":13.4,"y0":28.2,"y1":30.2,"v":15},{"x0":13.4,"x1":14.4,"y0":28.2,"y1":30.2,"v":14},{"x0":14.4,"x1":15.4,"y0":28.2,"y1":30.2,"v":24},{"x0":15.4,"x1":16.4,"y0":28.2,"y1":30.2,"v":28},{"x0":16.4,"x1":17.4,"y0":28.2,"y1":30.2,"v":33},{"x0":17.4,"x1":18.4,"y0":28.2,"y1":30.2,"v":37},{"x0":18.4,"x1":19.4,"y0":28.2,"y1":30.2,"v":41},{"x0":19.4,"x1":20.4,"y0":28.2,"y1":30.2,"v":41},{"x0":20.4,"x1":22.4,"y0":28.2,"y1":30.2,"v":41},{"x0":22.4,"x1":24.4,"y0":28.2,"y1":30.2,"v":33},{"x0":24.4,"x1":26.4,"y0":28.2,"y1":30.2,"v":15},{"x0":26.4,"x1":28.4,"y0":28.2,"y1":30.2,"v":1},
{"x0":4.4,"x1":5.4,"y0":26.2,"y1":28.2,"v":0.3},{"x0":5.4,"x1":6.4,"y0":26.2,"y1":28.2,"v":0.5},{"x0":6.4,"x1":7.4,"y0":26.2,"y1":28.2,"v":1},{"x0":7.4,"x1":8.4,"y0":26.2,"y1":28.2,"v":2},{"x0":8.4,"x1":9.4,"y0":26.2,"y1":28.2,"v":4},{"x0":9.4,"x1":10.4,"y0":26.2,"y1":28.2,"v":6},{"x0":10.4,"x1":11.4,"y0":26.2,"y1":28.2,"v":9},{"x0":11.4,"x1":12.4,"y0":26.2,"y1":28.2,"v":14},{"x0":12.4,"x1":13.4,"y0":26.2,"y1":28.2,"v":23},{"x0":13.4,"x1":14.4,"y0":26.2,"y1":28.2,"v":23},{"x0":14.4,"x1":15.4,"y0":26.2,"y1":28.2,"v":30},{"x0":15.4,"x1":16.4,"y0":26.2,"y1":28.2,"v":34},{"x0":16.4,"x1":17.4,"y0":26.2,"y1":28.2,"v":41},{"x0":17.4,"x1":18.4,"y0":26.2,"y1":28.2,"v":38},{"x0":18.4,"x1":19.4,"y0":26.2,"y1":28.2,"v":43},{"x0":19.4,"x1":20.4,"y0":26.2,"y1":28.2,"v":45},{"x0":20.4,"x1":22.4,"y0":26.2,"y1":28.2,"v":37},{"x0":22.4,"x1":24.4,"y0":26.2,"y1":28.2,"v":17},{"x0":24.4,"x1":26.4,"y0":26.2,"y1":28.2,"v":3},
{"x0":4.4,"x1":5.4,"y0":24.2,"y1":26.2,"v":0.4},{"x0":5.4,"x1":6.4,"y0":24.2,"y1":26.2,"v":0.7},{"x0":6.4,"x1":7.4,"y0":24.2,"y1":26.2,"v":1},{"x0":7.4,"x1":8.4,"y0":24.2,"y1":26.2,"v":1.5},{"x0":8.4,"x1":9.4,"y0":24.2,"y1":26.2,"v":3},{"x0":9.4,"x1":10.4,"y0":24.2,"y1":26.2,"v":5},{"x0":10.4,"x1":11.4,"y0":24.2,"y1":26.2,"v":8},{"x0":11.4,"x1":12.4,"y0":24.2,"y1":26.2,"v":10},{"x0":12.4,"x1":13.4,"y0":24.2,"y1":26.2,"v":15},{"x0":13.4,"x1":14.4,"y0":24.2,"y1":26.2,"v":26},{"x0":14.4,"x1":15.4,"y0":24.2,"y1":26.2,"v":36},{"x0":15.4,"x1":16.4,"y0":24.2,"y1":26.2,"v":42},{"x0":16.4,"x1":17.4,"y0":24.2,"y1":26.2,"v":45},{"x0":17.4,"x1":18.4,"y0":24.2,"y1":26.2,"v":45},{"x0":18.4,"x1":19.4,"y0":24.2,"y1":26.2,"v":45},{"x0":19.4,"x1":20.4,"y0":24.2,"y1":26.2,"v":37},{"x0":20.4,"x1":22.4,"y0":24.2,"y1":26.2,"v":22},{"x0":22.4,"x1":24.4,"y0":24.2,"y1":26.2,"v":3},
{"x0":3.4,"x1":4.4,"y0":22.2,"y1":24.2,"v":0.3},{"x0":4.4,"x1":5.4,"y0":22.2,"y1":24.2,"v":0.5},{"x0":5.4,"x1":6.4,"y0":22.2,"y1":24.2,"v":1},{"x0":6.4,"x1":7.4,"y0":22.2,"y1":24.2,"v":2},{"x0":7.4,"x1":8.4,"y0":22.2,"y1":24.2,"v":4},{"x0":8.4,"x1":9.4,"y0":22.2,"y1":24.2,"v":7},{"x0":9.4,"x1":10.4,"y0":22.2,"y1":24.2,"v":9},{"x0":10.4,"x1":11.4,"y0":22.2,"y1":24.2,"v":20},{"x0":11.4,"x1":12.4,"y0":22.2,"y1":24.2,"v":27},{"x0":12.4,"x1":13.4,"y0":22.2,"y1":24.2,"v":37},{"x0":13.4,"x1":14.4,"y0":22.2,"y1":24.2,"v":38},{"x0":14.4,"x1":15.4,"y0":22.2,"y1":24.2,"v":40},{"x0":15.4,"x1":16.4,"y0":22.2,"y1":24.2,"v":51},{"x0":16.4,"x1":17.4,"y0":22.2,"y1":24.2,"v":47},{"x0":17.4,"x1":18.4,"y0":22.2,"y1":24.2,"v":48},{"x0":18.4,"x1":19.4,"y0":22.2,"y1":24.2,"v":42},{"x0":19.4,"x1":20.4,"y0":22.2,"y1":24.2,"v":30},{"x0":20.4,"x1":22.4,"y0":22.2,"y1":24.2,"v":4},
{"x0":3.4,"x1":4.4,"y0":20.2,"y1":22.2,"v":0.5},{"x0":4.4,"x1":5.4,"y0":20.2,"y1":22.2,"v":1},{"x0":5.4,"x1":6.4,"y0":20.2,"y1":22.2,"v":3},{"x0":6.4,"x1":7.4,"y0":20.2,"y1":22.2,"v":6},{"x0":7.4,"x1":8.4,"y0":20.2,"y1":22.2,"v":13},{"x0":8.4,"x1":9.4,"y0":20.2,"y1":22.2,"v":18},{"x0":9.4,"x1":10.4,"y0":20.2,"y1":22.2,"v":23},{"x0":10.4,"x1":11.4,"y0":20.2,"y1":22.2,"v":36},{"x0":11.4,"x1":12.4,"y0":20.2,"y1":22.2,"v":40},{"x0":12.4,"x1":13.4,"y0":20.2,"y1":22.2,"v":44},{"x0":13.4,"x1":14.4,"y0":20.2,"y1":22.2,"v":45},{"x0":14.4,"x1":15.4,"y0":20.2,"y1":22.2,"v":48},{"x0":15.4,"x1":16.4,"y0":20.2,"y1":22.2,"v":45},{"x0":16.4,"x1":17.4,"y0":20.2,"y1":22.2,"v":42},{"x0":17.4,"x1":18.4,"y0":20.2,"y1":22.2,"v":37},{"x0":18.4,"x1":19.4,"y0":20.2,"y1":22.2,"v":26},{"x0":19.4,"x1":20.4,"y0":20.2,"y1":22.2,"v":11},
{"x0":2.4,"x1":3.4,"y0":18.2,"y1":20.2,"v":0.7},{"x0":3.4,"x1":4.4,"y0":18.2,"y1":20.2,"v":1.5},{"x0":4.4,"x1":5.4,"y0":18.2,"y1":20.2,"v":3},{"x0":5.4,"x1":6.4,"y0":18.2,"y1":20.2,"v":5},{"x0":6.4,"x1":7.4,"y0":18.2,"y1":20.2,"v":8},{"x0":7.4,"x1":8.4,"y0":18.2,"y1":20.2,"v":16},{"x0":8.4,"x1":9.4,"y0":18.2,"y1":20.2,"v":27},{"x0":9.4,"x1":10.4,"y0":18.2,"y1":20.2,"v":37},{"x0":10.4,"x1":11.4,"y0":18.2,"y1":20.2,"v":42},{"x0":11.4,"x1":12.4,"y0":18.2,"y1":20.2,"v":45},{"x0":12.4,"x1":13.4,"y0":18.2,"y1":20.2,"v":49},{"x0":13.4,"x1":14.4,"y0":18.2,"y1":20.2,"v":52},{"x0":14.4,"x1":15.4,"y0":18.2,"y1":20.2,"v":52},{"x0":15.4,"x1":16.4,"y0":18.2,"y1":20.2,"v":44},{"x0":16.4,"x1":17.4,"y0":18.2,"y1":20.2,"v":33},{"x0":17.4,"x1":18.4,"y0":18.2,"y1":20.2,"v":20},{"x0":18.4,"x1":19.4,"y0":18.2,"y1":20.2,"v":4},
{"x0":2.4,"x1":3.4,"y0":16.2,"y1":18.2,"v":0.7},{"x0":3.4,"x1":4.4,"y0":16.2,"y1":18.2,"v":1.5},{"x0":4.4,"x1":5.4,"y0":16.2,"y1":18.2,"v":3},{"x0":5.4,"x1":6.4,"y0":16.2,"y1":18.2,"v":9},{"x0":6.4,"x1":7.4,"y0":16.2,"y1":18.2,"v":18},{"x0":7.4,"x1":8.4,"y0":16.2,"y1":18.2,"v":25},{"x0":8.4,"x1":9.4,"y0":16.2,"y1":18.2,"v":28},{"x0":9.4,"x1":10.4,"y0":16.2,"y1":18.2,"v":31},{"x0":10.4,"x1":11.4,"y0":16.2,"y1":18.2,"v":33},{"x0":11.4,"x1":12.4,"y0":16.2,"y1":18.2,"v":34},{"x0":12.4,"x1":13.4,"y0":16.2,"y1":18.2,"v":31},{"x0":13.4,"x1":14.4,"y0":16.2,"y1":18.2,"v":30},{"x0":14.4,"x1":15.4,"y0":16.2,"y1":18.2,"v":18},{"x0":15.4,"x1":16.4,"y0":16.2,"y1":18.2,"v":6},
{"x0":2.4,"x1":3.4,"y0":14.2,"y1":16.2,"v":1},{"x0":3.4,"x1":4.4,"y0":14.2,"y1":16.2,"v":3},{"x0":4.4,"x1":5.4,"y0":14.2,"y1":16.2,"v":7},{"x0":5.4,"x1":6.4,"y0":14.2,"y1":16.2,"v":14},{"x0":6.4,"x1":7.4,"y0":14.2,"y1":16.2,"v":22},{"x0":7.4,"x1":8.4,"y0":14.2,"y1":16.2,"v":28},{"x0":8.4,"x1":9.4,"y0":14.2,"y1":16.2,"v":32},{"x0":9.4,"x1":10.4,"y0":14.2,"y1":16.2,"v":35},{"x0":10.4,"x1":11.4,"y0":14.2,"y1":16.2,"v":34},{"x0":11.4,"x1":12.4,"y0":14.2,"y1":16.2,"v":33},{"x0":12.4,"x1":13.4,"y0":14.2,"y1":16.2,"v":28},{"x0":13.4,"x1":14.4,"y0":14.2,"y1":16.2,"v":22},{"x0":14.4,"x1":15.4,"y0":14.2,"y1":16.2,"v":7},
{"x0":1.4,"x1":2.4,"y0":12.2,"y1":14.2,"v":0.7},{"x0":2.4,"x1":3.4,"y0":12.2,"y1":14.2,"v":2},{"x0":3.4,"x1":4.4,"y0":12.2,"y1":14.2,"v":5},{"x0":4.4,"x1":5.4,"y0":12.2,"y1":14.2,"v":11},{"x0":5.4,"x1":6.4,"y0":12.2,"y1":14.2,"v":24},{"x0":6.4,"x1":7.4,"y0":12.2,"y1":14.2,"v":30},{"x0":7.4,"x1":8.4,"y0":12.2,"y1":14.2,"v":34},{"x0":8.4,"x1":9.4,"y0":12.2,"y1":14.2,"v":37},{"x0":9.4,"x1":10.4,"y0":12.2,"y1":14.2,"v":40},{"x0":10.4,"x1":11.4,"y0":12.2,"y1":14.2,"v":37},{"x0":11.4,"x1":12.4,"y0":12.2,"y1":14.2,"v":31},{"x0":12.4,"x1":13.4,"y0":12.2,"y1":14.2,"v":18},
{"x0":1.4,"x1":2.4,"y0":10.2,"y1":12.2,"v":1.5},{"x0":2.4,"x1":3.4,"y0":10.2,"y1":12.2,"v":4},{"x0":3.4,"x1":4.4,"y0":10.2,"y1":12.2,"v":10},{"x0":4.4,"x1":5.4,"y0":10.2,"y1":12.2,"v":19},{"x0":5.4,"x1":6.4,"y0":10.2,"y1":12.2,"v":33},{"x0":6.4,"x1":7.4,"y0":10.2,"y1":12.2,"v":41},{"x0":7.4,"x1":8.4,"y0":10.2,"y1":12.2,"v":41},{"x0":8.4,"x1":9.4,"y0":10.2,"y1":12.2,"v":37},{"x0":9.4,"x1":10.4,"y0":10.2,"y1":12.2,"v":21},{"x0":10.4,"x1":11.4,"y0":10.2,"y1":12.2,"v":3},
{"x0":0.9,"x1":1.4,"y0":9.2,"y1":10.2,"v":1},{"x0":1.4,"x1":1.9,"y0":9.2,"y1":10.2,"v":5},{"x0":1.9,"x1":2.4,"y0":9.2,"y1":10.2,"v":8},{"x0":2.4,"x1":2.9,"y0":9.2,"y1":10.2,"v":14},{"x0":2.9,"x1":3.4,"y0":9.2,"y1":10.2,"v":18},{"x0":3.4,"x1":3.9,"y0":9.2,"y1":10.2,"v":28},{"x0":3.9,"x1":4.4,"y0":9.2,"y1":10.2,"v":31},{"x0":4.4,"x1":5.4,"y0":9.2,"y1":10.2,"v":37.5},{"x0":5.4,"x1":6.4,"y0":9.2,"y1":10.2,"v":43},{"x0":6.4,"x1":7.4,"y0":9.2,"y1":10.2,"v":45},{"x0":7.4,"x1":8.4,"y0":9.2,"y1":10.2,"v":30},{"x0":8.4,"x1":9.4,"y0":9.2,"y1":10.2,"v":4},
{"x0":0.9,"x1":1.4,"y0":8.2,"y1":9.2,"v":2},{"x0":1.4,"x1":1.9,"y0":8.2,"y1":9.2,"v":6},{"x0":1.9,"x1":2.4,"y0":8.2,"y1":9.2,"v":10},{"x0":2.4,"x1":2.9,"y0":8.2,"y1":9.2,"v":18},{"x0":2.9,"x1":3.4,"y0":8.2,"y1":9.2,"v":25},{"x0":3.4,"x1":3.9,"y0":8.2,"y1":9.2,"v":31},{"x0":3.9,"x1":4.4,"y0":8.2,"y1":9.2,"v":33},{"x0":4.4,"x1":5.4,"y0":8.2,"y1":9.2,"v":40},{"x0":5.4,"x1":6.4,"y0":8.2,"y1":9.2,"v":46},{"x0":6.4,"x1":7.4,"y0":8.2,"y1":9.2,"v":47},{"x0":7.4,"x1":8.4,"y0":8.2,"y1":9.2,"v":20},{"x0":8.4,"x1":9.4,"y0":8.2,"y1":9.2,"v":1},
{"x0":0.9,"x1":1.4,"y0":7.2,"y1":8.2,"v":3},{"x0":1.4,"x1":1.9,"y0":7.2,"y1":8.2,"v":8},{"x0":1.9,"x1":2.4,"y0":7.2,"y1":8.2,"v":13},{"x0":2.4,"x1":2.9,"y0":7.2,"y1":8.2,"v":20},{"x0":2.9,"x1":3.4,"y0":7.2,"y1":8.2,"v":28},{"x0":3.4,"x1":3.9,"y0":7.2,"y1":8.2,"v":32},{"x0":3.9,"x1":4.4,"y0":7.2,"y1":8.2,"v":37},{"x0":4.4,"x1":5.4,"y0":7.2,"y1":8.2,"v":49},{"x0":5.4,"x1":6.4,"y0":7.2,"y1":8.2,"v":50},{"x0":6.4,"x1":7.4,"y0":7.2,"y1":8.2,"v":34},{"x0":7.4,"x1":8.4,"y0":7.2,"y1":8.2,"v":6},
{"x0":0.9,"x1":1.4,"y0":6.2,"y1":7.2,"v":3},{"x0":1.4,"x1":1.9,"y0":6.2,"y1":7.2,"v":10},{"x0":1.9,"x1":2.4,"y0":6.2,"y1":7.2,"v":16},{"x0":2.4,"x1":2.9,"y0":6.2,"y1":7.2,"v":25},{"x0":2.9,"x1":3.4,"y0":6.2,"y1":7.2,"v":33},{"x0":3.4,"x1":3.9,"y0":6.2,"y1":7.2,"v":40},{"x0":3.9,"x1":4.4,"y0":6.2,"y1":7.2,"v":47},{"x0":4.4,"x1":5.4,"y0":6.2,"y1":7.2,"v":50},{"x0":5.4,"x1":6.4,"y0":6.2,"y1":7.2,"v":30},{"x0":6.4,"x1":7.4,"y0":6.2,"y1":7.2,"v":6},
{"x0":0.9,"x1":1.4,"y0":5.2,"y1":6.2,"v":5},{"x0":1.4,"x1":1.9,"y0":5.2,"y1":6.2,"v":13},{"x0":1.9,"x1":2.4,"y0":5.2,"y1":6.2,"v":22},{"x0":2.4,"x1":2.9,"y0":5.2,"y1":6.2,"v":32},{"x0":2.9,"x1":3.4,"y0":5.2,"y1":6.2,"v":46},{"x0":3.4,"x1":3.9,"y0":5.2,"y1":6.2,"v":60},{"x0":3.9,"x1":4.4,"y0":5.2,"y1":6.2,"v":60},{"x0":4.4,"x1":5.4,"y0":5.2,"y1":6.2,"v":38},{"x0":5.4,"x1":6.4,"y0":5.2,"y1":6.2,"v":4},
{"x0":0.9,"x1":1.4,"y0":4.2,"y1":5.2,"v":8},{"x0":1.4,"x1":1.9,"y0":4.2,"y1":5.2,"v":30},{"x0":1.9,"x1":2.4,"y0":4.2,"y1":5.2,"v":38},{"x0":2.4,"x1":2.9,"y0":4.2,"y1":5.2,"v":62},{"x0":2.9,"x1":3.4,"y0":4.2,"y1":5.2,"v":60},{"x0":3.4,"x1":3.9,"y0":4.2,"y1":5.2,"v":50},{"x0":3.9,"x1":4.4,"y0":4.2,"y1":5.2,"v":35},{"x0":4.4,"x1":5.4,"y0":4.2,"y1":5.2,"v":3},
{"x0":0.9,"x1":1.4,"y0":3.2,"y1":4.2,"v":8},{"x0":1.4,"x1":1.9,"y0":3.2,"y1":4.2,"v":28},{"x0":1.9,"x1":2.4,"y0":3.2,"y1":4.2,"v":44},{"x0":2.4,"x1":2.9,"y0":3.2,"y1":4.2,"v":47},{"x0":2.9,"x1":3.4,"y0":3.2,"y1":4.2,"v":38},{"x0":3.4,"x1":3.9,"y0":3.2,"y1":4.2,"v":28},{"x0":3.9,"x1":4.4,"y0":3.2,"y1":4.2,"v":4},
{"x0":0.4,"x1":0.9,"y0":2.2,"y1":3.2,"v":10},{"x0":0.9,"x1":1.4,"y0":2.2,"y1":3.2,"v":45},{"x0":1.4,"x1":1.9,"y0":2.2,"y1":3.2,"v":52},{"x0":1.9,"x1":2.4,"y0":2.2,"y1":3.2,"v":48},{"x0":2.4,"x1":2.9,"y0":2.2,"y1":3.2,"v":28},{"x0":2.9,"x1":3.4,"y0":2.2,"y1":3.2,"v":4},
{"x0":0.4,"x1":0.9,"y0":1.2,"y1":2.2,"v":30},{"x0":0.9,"x1":1.4,"y0":1.2,"y1":2.2,"v":40},{"x0":1.4,"x1":1.9,"y0":1.2,"y1":2.2,"v":42},{"x0":1.9,"x1":2.4,"y0":1.2,"y1":2.2,"v":20},{"x0":2.4,"x1":2.9,"y0":1.2,"y1":2.2,"v":2},
{"x0":0.4,"x1":0.9,"y0":0.2,"y1":1.2,"v":34},{"x0":0.9,"x1":1.4,"y0":0.2,"y1":1.2,"v":30},{"x0":1.4,"x1":1.9,"y0":0.2,"y1":1.2,"v":4},
{"x0":-0.6,"x1":-0.1,"y0":-0.7,"y1":0.2,"v":5},{"x0":-0.1,"x1":0.4,"y0":-0.7,"y1":0.2,"v":15},{"x0":0.4,"x1":0.9,"y0":-0.7,"y1":0.2,"v":3}
]},"encoding":{"x":{"field":"x0","type":"quantitative","axis":null},"x2":{"field":"x1"},"y":{"field":"y0","type":"quantitative","axis":null},"y2":{"field":"y1"},"color":{"field":"v","type":"quantitative","legend":null,"scale":{"type":"linear","interpolate":"rgb","domain":[0,15,22,30,37.5,45,52,60,70,80,90,100],"range":["#000000","#500070","#4800b0","#0000ff","#0080ff","#00ffff","#00ff80","#00ff00","#ffff00","#ff8000","#ff0000","#ffffff"]}},"stroke":{"field":"v","type":"quantitative","legend":null,"scale":{"type":"linear","interpolate":"rgb","domain":[0,15,22,30,37.5,45,52,60,70,80,90,100],"range":["#000000","#500070","#4800b0","#0000ff","#0080ff","#00ffff","#00ff80","#00ff00","#ffff00","#ff8000","#ff0000","#ffffff"]}}}},
{"mark":{"type":"line","color":"white","strokeWidth":3,"clip":true},"data":{"values":[{"px":-0.7,"py":-0.7},{"px":130,"py":130}]},"encoding":{"x":{"field":"px","type":"quantitative","axis":{"orient":"top","title":null,"values":[0,5,10,15,20,25,30,35,40,45,50,55,60,65,70,75,80,85,90,95,100,105,110,115,120,125,130],"labels":false,"tickSize":{"condition":{"test":"datum.value % 20 === 0","value":15},"value":7},"tickColor":"#333333","tickWidth":1,"grid":false,"domain":false}},"y":{"field":"py","type":"quantitative","axis":{"orient":"right","title":null,"values":[0,5,10,15,20,25,30,35,40,45,50,55,60,65,70,75,80,85,90,95,100,105,110,115,120,125,130],"labels":false,"tickSize":{"condition":{"test":"datum.value % 20 === 0","value":24},"value":12},"tickColor":"#333333","tickWidth":1,"grid":false,"domain":false}}}},
{"mark":{"type":"line","color":"#ff9000","strokeWidth":3.8,"strokeJoin":"round","clip":true},"data":{"values":[{"lx":-0.7,"ly":0},{"lx":0,"ly":0.6},{"lx":0.55,"ly":2.4},{"lx":1.75,"ly":5},{"lx":3.3,"ly":8},{"lx":4,"ly":8},{"lx":4.5,"ly":10.3},{"lx":6,"ly":13},{"lx":7,"ly":14},{"lx":8,"ly":16},{"lx":9,"ly":17},{"lx":10,"ly":19},{"lx":11,"ly":20},{"lx":12,"ly":20},{"lx":15,"ly":26},{"lx":16,"ly":26},{"lx":24,"ly":42},{"lx":26,"ly":44},{"lx":28,"ly":48},{"lx":30,"ly":50},{"lx":32,"ly":50},{"lx":36,"ly":60},{"lx":38,"ly":60},{"lx":44,"ly":75},{"lx":46,"ly":75},{"lx":48,"ly":85},{"lx":50,"ly":90},{"lx":55,"ly":100},{"lx":60,"ly":100},{"lx":65,"ly":110},{"lx":70,"ly":130},{"lx":85,"ly":130}]},"encoding":{"x":{"field":"lx","type":"quantitative","axis":null},"y":{"field":"ly","type":"quantitative","axis":null}}}]}
